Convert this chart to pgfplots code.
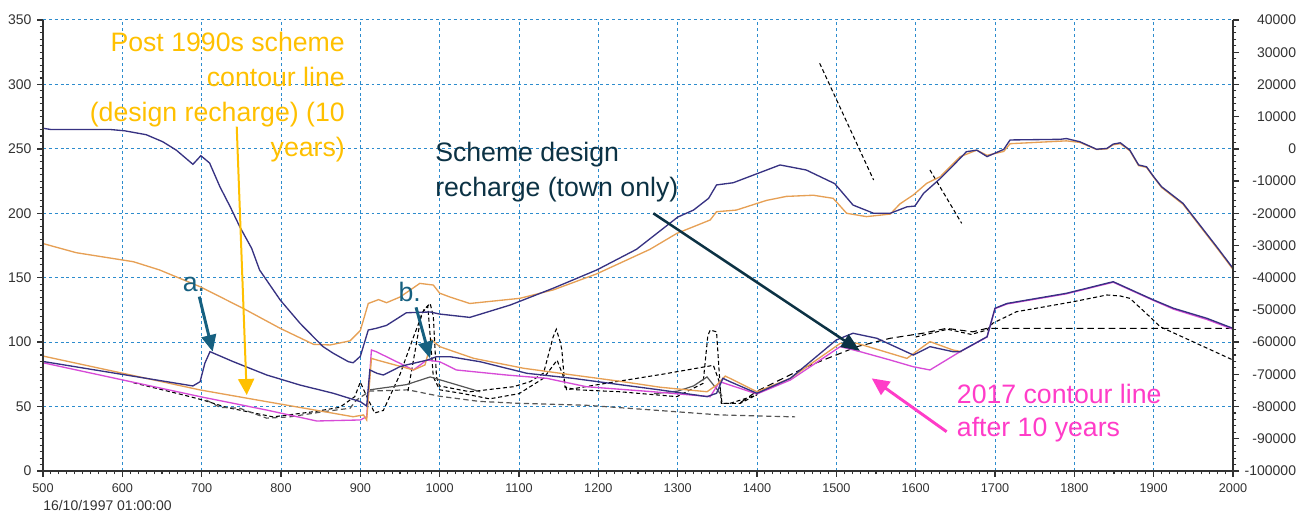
\documentclass[border=0pt]{standalone}
\usepackage{fontspec}
\setmainfont{Liberation Sans}
\usepackage{pgfplots}
\pgfplotsset{compat=1.18}
\usetikzlibrary{arrows.meta}

\definecolor{gridblue}{RGB}{45,140,205}
\definecolor{navyline}{RGB}{55,50,130}
\definecolor{orangeline}{RGB}{230,160,85}
\definecolor{magline}{RGB}{215,75,215}
\definecolor{graydash}{RGB}{85,85,85}
\definecolor{goldann}{RGB}{255,192,0}
\definecolor{tealann}{RGB}{22,96,128}
\definecolor{navyann}{RGB}{12,50,68}
\definecolor{pinkann}{RGB}{255,60,200}
\definecolor{axisgray}{RGB}{50,50,50}
\definecolor{ticktext}{RGB}{50,50,50}

\tikzset{
  ann/.style={font=\fontsize{20}{24}\selectfont, inner sep=0pt},
  blk/.style={black, line width=0.8pt, dash pattern=on 3pt off 2pt},
  gry/.style={graydash, line width=0.9pt, dash pattern=on 4pt off 2.5pt},
}
\pgfplotsset{
  twin/.style={
    scale only axis, width=892.5pt, height=338.25pt,
    xmin=500, xmax=2000,
    tick align=outside,
    major tick length=4.5pt, minor tick length=2.5pt,
    every major tick/.append style={draw=axisgray, line width=1pt},
    every minor tick/.append style={draw=axisgray, line width=0.8pt},
    axis line style={draw=none},
    ticklabel style={text=ticktext, inner sep=0pt},
    /pgf/number format/assume math mode=true,
    /pgf/number format/1000 sep={},
    clip=false,
  },
}

\begin{document}
\begin{tikzpicture}

\begin{axis}[twin,
  ymin=0, ymax=350,
  xtick pos=left, ytick pos=left,
  xtick={500,600,...,2000}, ytick={0,50,...,350},
  minor x tick num=9, minor y tick num=9,
  xmajorgrids, ymajorgrids,
  major grid style={gridblue, line width=0.75pt, dash pattern=on 2.2pt off 2.2pt},
  xticklabel style={font=\fontsize{9.5}{11}\selectfont, anchor=north, yshift=-4.5pt},
  yticklabel style={font=\fontsize{10.5}{12}\selectfont, anchor=east, xshift=-4pt},
]

% dashed lines
\addplot[blk] coordinates {(614,68.5)(677,59)(702,55)(731,49.4)(790,42)(841,46)(874,49.4)(893,57.7)(900,69)(905,62)(918,45)(929,47)(950,75)(967,104)(980,125)(988,130)(992,120)(996,73)(1000,66)(1038,61.5)(1093,65.4)(1114,69.3)(1131,76)(1143,104)(1147,110)(1152,100)(1154,94)(1158,65)(1173,63)(1227,61.5)(1299,57.7)(1332,68)(1338,105)(1341,109.4)(1349,108)(1352,80)(1355,52.5)(1379,52.5)(1395,57.7)(1400,60)};
\addplot[gry] coordinates {(706,55)(723,49.4)(748,48.7)(782,41)(811,42)(853,46)(887,48.7)(895,55)(912,62)(960,63)(1000,58)(1050,54)(1101,52.5)(1185,51)(1269,47.3)(1353,43.5)(1448,42)};
\addplot[blk] coordinates {(960,62)(971,100)(977,122)(985,128)(988,105)(992,73)(1000,63)(1030,60)(1063,56)(1100,60)(1131,72)(1148,86)(1155,75)(1160,63)(1219,69)(1280,75)(1345,82)(1352,70)(1356,52.5)(1366,52.5)(1400,59)};
\addplot[graydash, line width=0.9pt] coordinates {(912,63)(958,67)(988,73)(1021,67)(1051,61.5)};
\addplot[graydash, line width=0.9pt] coordinates {(1270,60)(1300,62)(1320,66)(1337,73)(1350,63)(1356,58)};
\addplot[black, line width=0.8pt, dash pattern=on 5pt off 3pt] coordinates {(1379,53)(1400,62)(1463,81)(1526,96.5)(1568,103)(1610,107)(1639,110.7)(1672,108)(1690,110.7)(2000,110.7)};
\addplot[blk] coordinates {(1600,104)(1640,110)(1670,106)(1690,109.4)(1697,114.6)(1727,123.6)(1799,131.4)(1841,136.6)(1858,135.8)(1870,134)(1895,119.8)(1908,112)(2000,86.1)};
\addplot[blk] coordinates {(1479,316.4)(1547,225.8)};
\addplot[blk] coordinates {(1618,233.6)(1658,192.2)};

% magenta
\addplot[magline, line width=1pt] coordinates {(500,84)(698,57.7)(782,47.3)(845,38.8)(900,39.6)(908,42.1)(914,93.9)(920,92.6)(967,78.4)(983.6,86.1)(1000,84.8)(1021,78.4)(1084,74.5)(1135,71.9)(1185,65.4)(1269,61.5)(1341,57.7)(1353,69.3)(1400,59.8)(1442,70.6)(1505,96.5)(1530,92.6)(1568,86.1)(1597,80.9)(1618,78.4)(1656,92.6)(1690,104)(1700,126)(1715,129.6)(1790,137.5)(1849,146.5)(1900,132.3)(1925,125.6)(1967,117.6)(2000,110)};

% orange
\addplot[orangeline, line width=1pt] coordinates {(500,176.5)(542,169.4)(614,162.4)(647,156)(698,143)(752,126.3)(799,110.7)(841,98.3)(862,97.8)(887,101)(900,109)(910,130)(923,133)(933,130.6)(950,135)(975,145.6)(992,144.3)(1000,138)(1013,135)(1038,130)(1101,134)(1143,140.5)(1198,153)(1265,172)(1299,184.4)(1341,194.8)(1349,201.2)(1374,202.5)(1412,210)(1437,213.1)(1471,214)(1496,211.6)(1513,200)(1538,197.4)(1568,199.4)(1580,207.2)(1597,214.2)(1614,223.3)(1631,228.4)(1656,243.9)(1677,249)(1690,245)(1711,248)(1719,254)(1790,256.2)(1807,255)(1828,249.5)(1841,250)(1849,253.2)(1858,254)(1870,248.5)(1881,237)(1891,235.6)(1900,228)(1910,220)(1937,207)(1981,172)(2000,156.5)};
\addplot[orangeline, line width=1pt] coordinates {(500,89.2)(698,62.9)(782,53.8)(866,44.8)(891,42.1)(904,43.5)(908,39.6)(914,87.4)(921,86.1)(967,78.4)(981.5,82.3)(990,101.7)(1000,96.5)(1043,87.4)(1106,79.7)(1168,74.5)(1231,69.3)(1278,65)(1337,61.5)(1349,66.7)(1360,73.7)(1400,61.5)(1442,71.9)(1505,99.1)(1526,99.1)(1589,87.4)(1618,100.4)(1647,93.9)(1658,92.6)};

% navy
\addplot[navyline, line width=1pt] coordinates {(500,266)(510,265)(585,265)(603,264)(630,261)(651,255.5)(668,249)(689,238)(699,244.7)(710,239)(723,220.6)(736,205)(748,189.6)(763,172.8)(773,156)(799,132.7)(824,114.6)(853,96.5)(866,91.3)(885,84.8)(891,84)(900,89)(910,109.4)(920,110.7)(933,113)(958,122.8)(988,123.4)(1000,121.8)(1038,119.2)(1089,128.8)(1143,141.8)(1198,156)(1248,172)(1300,197)(1320,202.5)(1339,211.6)(1349,222)(1370,223.7)(1429,237.5)(1462,233.6)(1498,223)(1521,206.4)(1547,200)(1568,200)(1589,205)(1599,205.6)(1610,215.5)(1631,227)(1648,237.5)(1664,247.8)(1677,249)(1690,244)(1711,249.6)(1719,256.9)(1782,257.4)(1790,258)(1807,255.5)(1828,249.7)(1841,250.3)(1849,253.7)(1858,254.7)(1870,249)(1881,237.5)(1891,236.1)(1900,228.4)(1910,220.6)(1937,207.7)(1981,172.8)(2000,157.3)};
\addplot[navyline, line width=1pt] coordinates {(500,85)(689,66)(698,69.3)(704,83.6)(710.5,92.6)(740,84.8)(782,74.5)(824,66.7)(866,60.3)(900,53.8)(908,50.4)(912,78.4)(921,75.8)(929,74.5)(950,81)(958,82.3)(984,86)(996,88.7)(1013,88.7)(1051,84.8)(1110,75.8)(1168,71.9)(1231,66.7)(1278,62.9)(1337,57.7)(1349,60.3)(1357,71.9)(1366,69.3)(1400,60.3)(1442,71.9)(1500,101.7)(1521,106.9)(1551,103)(1597,90)(1618,96.5)(1647,92.6)(1656,92.6)(1690,104.2)(1700,126.3)(1715,130)(1790,137.9)(1849,146.9)(1900,132.7)(1925,126.3)(1967,118.5)(2000,110.7)};

% axis spines (left, bottom, right)
\draw[axisgray, line width=1.5pt] (axis cs:500,350) -- (axis cs:500,0) -- (axis cs:2000,0) -- (axis cs:2000,350);

% annotations
\node[ann, text=goldann, anchor=base east] at (axis cs:880.7,325.4) {Post 1990s scheme};
\node[ann, text=goldann, anchor=base east] at (axis cs:880.7,298.2) {contour line};
\node[ann, text=goldann, anchor=base east] at (axis cs:880.7,271.1) {(design recharge) (10};
\node[ann, text=goldann, anchor=base east] at (axis cs:880.7,243.9) {years)};
\draw[goldann, line width=1.5pt, -{Triangle[length=12pt,width=12pt]}] (axis cs:744.2,267.2) -- (axis cs:756.8,59);

\node[ann, text=tealann, anchor=base west] at (axis cs:676,139.1) {a.};
\draw[tealann, line width=2.2pt, -{Triangle[length=12.5pt,width=11pt]}] (axis cs:697,135.3) -- (axis cs:713.9,92.6);
\node[ann, text=tealann, anchor=base west] at (axis cs:947.9,131.4) {b.};
\draw[tealann, line width=2.2pt, -{Triangle[length=12.5pt,width=11pt]}] (axis cs:970.2,127) -- (axis cs:987.8,87.5);

\node[ann, text=navyann, anchor=base west] at (axis cs:994.1,240) {Scheme design};
\node[ann, text=navyann, anchor=base west] at (axis cs:994.1,212.9) {recharge (town only)};
\draw[navyann, line width=1.9pt, -{Triangle[length=14pt,width=11pt]}] (axis cs:1269.3,200) -- (axis cs:1529.8,93.2);

\node[ann, text=pinkann, anchor=base west] at (axis cs:1651.7,52.5) {2017 contour line};
\node[ann, text=pinkann, anchor=base west] at (axis cs:1651.7,26.6) {after 10 years};
\draw[pinkann, line width=2.2pt, -{Triangle[length=13pt,width=12pt]}] (axis cs:1639,30.5) -- (axis cs:1544.6,71.9);

\node[anchor=base west, inner sep=0pt, font=\fontsize{10.5}{12}\selectfont, text=ticktext] at ([yshift=-29.8pt]axis cs:500,0) {16/10/1997 01:00:00};
\end{axis}

\begin{axis}[twin,
  ymin=-100000, ymax=40000,
  hide x axis,
  ytick pos=right,
  ytick={-100000,-90000,-80000,-70000,-60000,-50000,-40000,-30000,-20000,-10000,0,10000,20000,30000,40000},
  minor y tick num=4,
  scaled y ticks=false,
  yticklabel style={font=\fontsize{10.5}{12}\selectfont, anchor=east, xshift=43pt, /pgf/number format/.cd, fixed, 1000 sep={}},
]
\end{axis}

\path (-32.25pt,-31.5pt) rectangle (951pt,353.25pt);
\end{tikzpicture}
\end{document}
